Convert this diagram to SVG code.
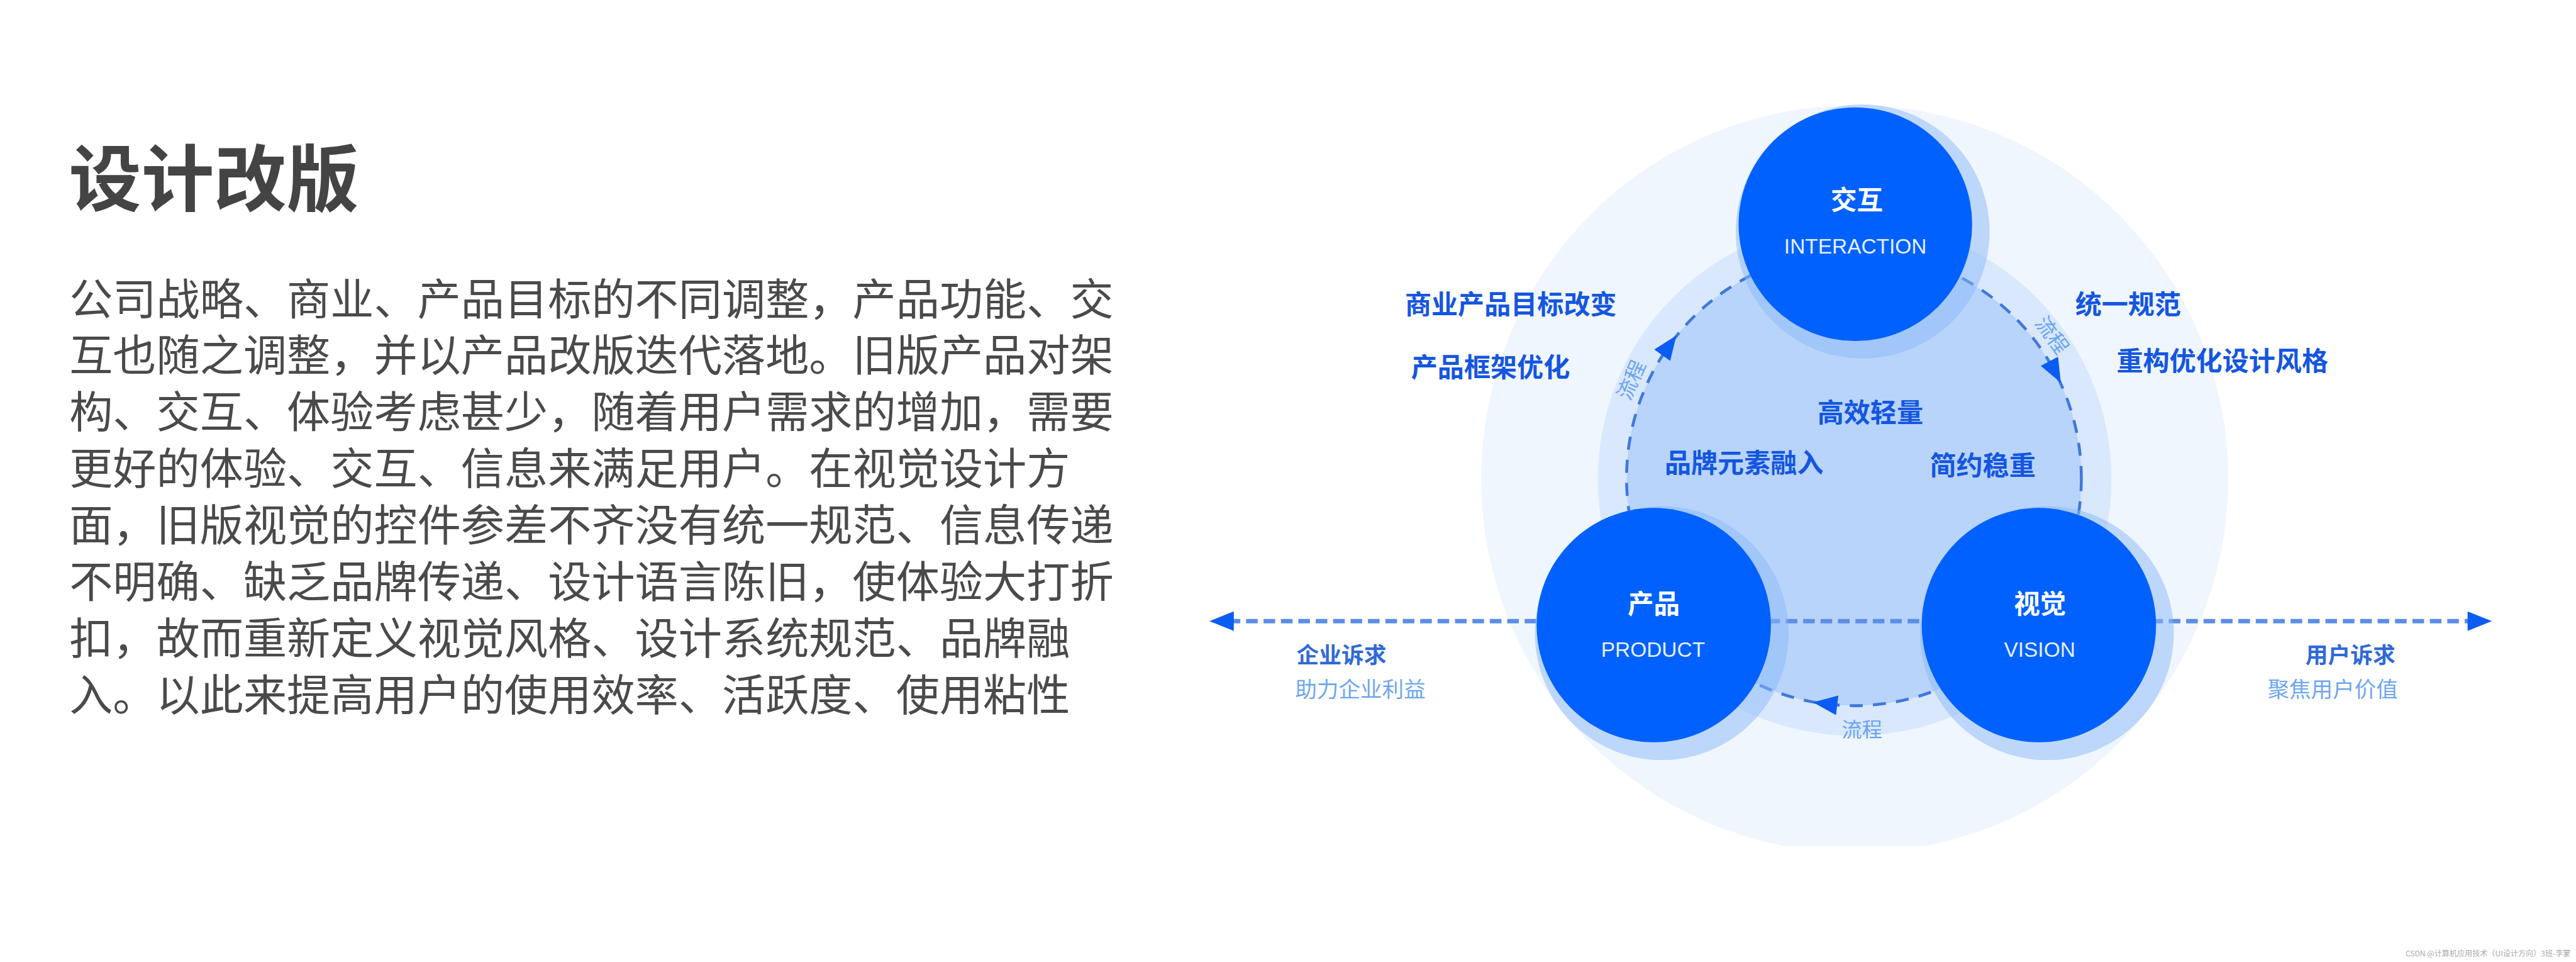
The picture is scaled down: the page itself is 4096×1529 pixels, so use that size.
<svg xmlns="http://www.w3.org/2000/svg" width="4096" height="1529" viewBox="0 0 4096 1529">
<style>
.cjk{font-family:"Noto Sans CJK SC","Noto Sans",sans-serif}
.lat{font-family:"Liberation Sans",Arial,sans-serif}
.title{font-size:200px;font-weight:700;fill:#444}
.body{font-size:120px;fill:#4a4a4a}
.lbl{font-size:73px;font-weight:700;fill:#1456e0}
.node-cn{font-size:72px;font-weight:700;fill:#fff}
.node-en{font-size:58px;fill:#e6efff}
.req{font-size:62px;font-weight:700;fill:#2f6ad8}
.sub{font-size:60px;fill:#6fa6f0}
.flow{font-size:56px;fill:#6aa3f3}
.node{fill:#0061fe}
.halo{fill:#8ab8f8;opacity:0.5}
.dashc{fill:none;stroke:#3f78dc;stroke-width:8;stroke-dasharray:36 28}
.dashh{fill:none;stroke:#5b8ee6;stroke-width:12;stroke-dasharray:32 16}
.arrow{fill:#0a5cf2}
</style>
<defs>
<path id="ah" d="M35 0 L-32 -27 L-32 27 Z"/>
<clipPath id="cut"><rect x="0" y="0" width="7103" height="2332"/></clipPath>
</defs>
<rect x="0" y="0" width="4096" height="1529" fill="#ffffff"/>
<g transform="scale(0.57666)">
<g id="text-block">
<text class="cjk title" x="190" y="565">设计改版</text>
<text class="cjk body" x="191" y="868"><tspan x="191" y="868">公司战略、商业、产品目标的不同调整，产品功能、交</tspan><tspan x="191" y="1024">互也随之调整，并以产品改版迭代落地。旧版产品对架</tspan><tspan x="191" y="1180">构、交互、体验考虑甚少，随着用户需求的增加，需要</tspan><tspan x="191" y="1336">更好的体验、交互、信息来满足用户。在视觉设计方</tspan><tspan x="191" y="1492">面，旧版视觉的控件参差不齐没有统一规范、信息传递</tspan><tspan x="191" y="1648">不明确、缺乏品牌传递、设计语言陈旧，使体验大打折</tspan><tspan x="191" y="1804">扣，故而重新定义视觉风格、设计系统规范、品牌融</tspan><tspan x="191" y="1960">入。以此来提高用户的使用效率、活跃度、使用粘性</tspan></text>
</g>
<g id="backdrop">
<circle cx="5114" cy="1320" r="1030" fill="#f0f6fe" clip-path="url(#cut)"/>
<circle cx="5114" cy="1320" r="708" fill="#d9e8fd"/>
<circle cx="5112" cy="1318" r="627" fill="#b8d4fb"/>
</g>
<g id="connectors">
<circle class="dashc" cx="5112" cy="1318" r="627"/>
<line class="dashh" x1="3388" y1="1712" x2="6817" y2="1712"/>
<use href="#ah" class="arrow" transform="translate(3370 1712) rotate(180)"/>
<use href="#ah" class="arrow" transform="translate(6836 1712)"/>
<use href="#ah" class="arrow" transform="translate(4602 953) rotate(305.6)"/>
<use href="#ah" class="arrow" transform="translate(5666 1024) rotate(62)"/>
<use href="#ah" class="arrow" transform="translate(5034 1940) rotate(187)"/>
<text class="cjk flow" text-anchor="middle" transform="translate(4497 1047) rotate(-66)" y="21">流程</text>
<text class="cjk flow" text-anchor="middle" transform="translate(5659 923) rotate(54)" y="21">流程</text>
<text class="cjk flow" text-anchor="middle" x="5134" y="2030">流程</text>
</g>
<g id="node-interaction">
<circle class="halo" cx="5136" cy="638" r="350"/>
<circle class="node" cx="5116" cy="618" r="322"/>
<text class="cjk node-cn" text-anchor="middle" x="5120" y="577">交互</text>
<text class="lat node-en" text-anchor="middle" x="5116" y="698">INTERACTION</text>
</g>
<g id="node-product">
<circle class="halo" cx="4582" cy="1745" r="350"/>
<circle class="node" cx="4560" cy="1723" r="323"/>
<text class="cjk node-cn" text-anchor="middle" x="4560" y="1690">产品</text>
<text class="lat node-en" text-anchor="middle" x="4558" y="1810">PRODUCT</text>
</g>
<g id="node-vision">
<circle class="halo" cx="5644" cy="1745" r="350"/>
<circle class="node" cx="5622" cy="1723" r="323"/>
<text class="cjk node-cn" text-anchor="middle" x="5625" y="1690">视觉</text>
<text class="lat node-en" text-anchor="middle" x="5624" y="1810">VISION</text>
</g>
<g id="labels">
<text class="cjk lbl" x="3874" y="865">商业产品目标改变</text>
<text class="cjk lbl" x="3891" y="1039">产品框架优化</text>
<text class="cjk lbl" x="5722" y="865">统一规范</text>
<text class="cjk lbl" x="5836" y="1021">重构优化设计风格</text>
<text class="cjk lbl" text-anchor="middle" x="5157" y="1164">高效轻量</text>
<text class="cjk lbl" text-anchor="middle" x="4809" y="1303">品牌元素融入</text>
<text class="cjk lbl" text-anchor="middle" x="5467" y="1309">简约稳重</text>
<text class="cjk req" x="3575" y="1827">企业诉求</text>
<text class="cjk sub" x="3571" y="1921">助力企业利益</text>
<text class="cjk req" text-anchor="end" x="6605" y="1827">用户诉求</text>
<text class="cjk sub" text-anchor="end" x="6612" y="1921">聚焦用户价值</text>
</g>
<text class="cjk" x="7088" y="2636" text-anchor="end" font-size="21" fill="#aaaaaa">CSDN @计算机应用技术（UI设计方向）3班-李蒙</text>
</g>
</svg>
